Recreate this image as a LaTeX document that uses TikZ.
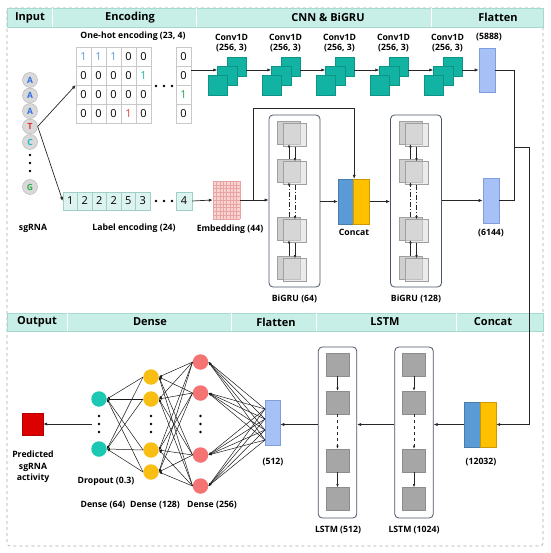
\documentclass[tikz,border=0pt]{standalone}
\usepackage{fontspec}
\setmainfont{Open Sans}
\usetikzlibrary{arrows.meta,calc}
\definecolor{hdrfill}{HTML}{C8EFE7}
\definecolor{hdrline}{HTML}{A6DACF}
\definecolor{gridgray}{HTML}{C8C8C8}
\definecolor{convteal}{HTML}{12B3A2}
\definecolor{convedge}{HTML}{0C9486}
\definecolor{flatfill}{HTML}{A7C0F5}
\definecolor{flatedge}{HTML}{7E9DDD}
\definecolor{catblue}{HTML}{5B9BD5}
\definecolor{catyellow}{HTML}{FFC000}
\definecolor{embfill}{HTML}{F9D2D2}
\definecolor{embline}{HTML}{E8A3A3}
\definecolor{lefill}{HTML}{DDF3F0}
\definecolor{leedge}{HTML}{9FCFC8}
\definecolor{boxedge}{HTML}{4A5568}
\definecolor{gruback}{HTML}{CFCFCF}
\definecolor{grufront}{HTML}{DCDCDC}
\definecolor{gruedge}{HTML}{A0A0A0}
\definecolor{lstmfill}{HTML}{A6A6A6}
\definecolor{lstmedge}{HTML}{8C8C8C}
\definecolor{nnred}{HTML}{F47474}
\definecolor{nnyellow}{HTML}{F9BE14}
\definecolor{nnteal}{HTML}{1CC8B4}
\definecolor{outred}{HTML}{DD0000}
\definecolor{baseA}{HTML}{2F6FE0}
\definecolor{baseT}{HTML}{E03030}
\definecolor{baseC}{HTML}{1FB8C4}
\definecolor{baseG}{HTML}{2FAE4E}
\definecolor{oneblue}{HTML}{5B9BD5}
\definecolor{oneteal}{HTML}{1FB09E}
\definecolor{onegreen}{HTML}{23A04E}
\definecolor{onered}{HTML}{E04040}
\begin{document}
\begin{tikzpicture}[x=1pt,y=-1pt,
  lbl/.style={font=\fontsize{8.7}{10}\selectfont\bfseries, align=center, inner sep=0},
  hdr/.style={font=\fontsize{11}{12}\selectfont\bfseries, inner sep=0},
  arr/.style={-{Latex[length=4pt,width=3.2pt]}, line width=0.7pt, draw=black!85},
  smarr/.style={-{Latex[length=3.2pt,width=2.6pt]}, line width=0.6pt, draw=black!85},
  nnarr/.style={-{Latex[length=3pt,width=2.4pt]}, line width=0.5pt, draw=black!90},
  ln/.style={line width=0.7pt, draw=black!85},
  ohcell/.style={draw=gridgray, line width=0.5pt, minimum width=15pt, minimum height=19pt, inner sep=0, font=\fontsize{11}{12}\selectfont},
  lecell/.style={draw=leedge, fill=lefill, line width=0.5pt, minimum width=14.5pt, minimum height=18pt, inner sep=0, font=\fontsize{11}{12}\selectfont},
  base/.style={circle, draw=gray!60, fill=gray!30, minimum size=15pt, inner sep=0, font=\fontsize{8.5}{9}\selectfont\bfseries},
  convsq/.style={draw=convedge, fill=convteal, line width=0.4pt, minimum size=19.5pt, inner sep=0},
  flat/.style={draw=flatedge, fill=flatfill, line width=0.6pt, minimum width=16pt, minimum height=44pt, inner sep=0},
  grubox/.style={draw=boxedge, rounded corners=4pt, line width=0.8pt, fill=white, minimum width=51pt, minimum height=172pt, inner sep=0},
  gback/.style={draw=gruedge, fill=gruback, line width=0.5pt, minimum size=23pt, inner sep=0},
  gfront/.style={draw=gruedge, fill=grufront, fill opacity=0.55, line width=0.5pt, minimum size=23pt, inner sep=0},
  lcell/.style={draw=lstmedge, fill=lstmfill, line width=0.5pt, minimum size=23pt, inner sep=0},
  catb/.style={draw=catblue!80!black, fill=catblue, line width=0.4pt, minimum width=16pt, minimum height=45pt, inner sep=0},
  caty/.style={draw=catyellow!80!black, fill=catyellow, line width=0.4pt, minimum width=16pt, minimum height=45pt, inner sep=0},
  neuron/.style={circle, minimum size=15.5pt, inner sep=0}
]
\useasboundingbox (0,0) rectangle (550,553);
% frame
\draw[gray!70, dashed, line width=0.6pt, rounded corners=3pt] (7,8) rectangle (543,546);
% top header
\draw[hdrline, fill=hdrfill, line width=0.5pt] (7,8) rectangle (543,27);
\foreach \xx in {52,196,431} \draw[white, line width=0.8pt] (\xx,8) -- (\xx,27);
\node[hdr] (hIn) at (30,17.5) {Input};
\node[hdr] (hEnc) at (130,17.5) {Encoding};
\node[hdr] (hCnn) at (328,17.5) {CNN \& BiGRU};
\node[hdr] (hFl) at (498,17.5) {Flatten};
% bottom header
\draw[hdrline, fill=hdrfill, line width=0.5pt] (7,313) rectangle (543,331);
\foreach \xx in {67,231,316,456} \draw[white, line width=0.8pt] (\xx,313) -- (\xx,331);
\node[hdr] (hOut) at (37,322) {Output};
\node[hdr] (hDen) at (150,322) {Dense};
\node[hdr] (hFl2) at (276,322) {Flatten};
\node[hdr] (hLs) at (385,322) {LSTM};
\node[hdr] (hCat) at (493,322) {Concat};

% sgRNA
\node[base, text=baseA] (s1) at (30,80) {A};
\node[base, text=baseA] (s2) at (30,95.5) {A};
\node[base, text=baseA] (s3) at (30,111) {A};
\node[base, text=baseT] (s4) at (30,126.5) {T};
\node[base, text=baseC] (s5) at (30,142) {C};
\node[base, text=baseG] (s6) at (30,187) {G};
\foreach \yy in {155,163,171} \fill (30,\yy) circle (1.3pt);
\node[lbl] (sgl) at (33,228) {sgRNA};

% one-hot matrix
\node[inner sep=0, minimum width=75pt, minimum height=76pt] (oh) at (113.5,85) {};
\foreach \c/\v/\col in {1/1/oneblue,2/1/oneblue,3/1/oneblue,4/0/black,5/0/black}
  \node[ohcell, text=\col] (ma\c) at ({68.5+15*\c},56.5) {\v};
\foreach \c/\v/\col in {1/0/black,2/0/black,3/0/black,4/0/black,5/1/oneteal}
  \node[ohcell, text=\col] (mb\c) at ({68.5+15*\c},75.5) {\v};
\foreach \c/\v/\col in {1/0/black,2/0/black,3/0/black,4/0/black,5/0/black}
  \node[ohcell, text=\col] (mc\c) at ({68.5+15*\c},94.5) {\v};
\foreach \c/\v/\col in {1/0/black,2/0/black,3/0/black,4/1/onered,5/0/black}
  \node[ohcell, text=\col] (md\c) at ({68.5+15*\c},113.5) {\v};
\foreach \c/\v/\col in {1/0/black,2/0/black,3/1/onegreen,4/0/black}
  \node[ohcell, text=\col] (k\c) at (183.5,{37.5+19*\c}) {\v};
\foreach \xx in {156,164,172} \fill (\xx,86) circle (1.4pt);
\node[lbl] (ohl) at (133,36) {One-hot encoding (23, 4)};

% label encoding
\foreach \c/\v in {1/1,2/2,3/2,4/2,5/5,6/3}
  \node[lecell] (le\c) at ({55.75+14.5*\c},201) {\v};
\node[lecell, minimum width=16pt] (le7) at (184,201) {4};
\foreach \xx in {156,164,172} \fill (\xx,201) circle (1.4pt);
\node[lbl] (lel) at (134,228) {Label encoding (24)};

\draw[arr] (s4.east) -- (oh.west);
\draw[arr] (s4.east) -- (le1.west);

% embedding
\node[fill=embfill, minimum width=27pt, minimum height=38pt, inner sep=0] (emb) at (226.5,200) {};
\foreach \xx in {213,216.375,...,240.1} \draw[embline, line width=0.4pt] (\xx,181) -- (\xx,219);
\foreach \yy in {181,184.8,...,219.1} \draw[embline, line width=0.4pt] (213,\yy) -- (240,\yy);
\node[lbl] (embl) at (230,229) {Embedding (44)};
\draw[arr] (le7.east) -- (emb.west);

% conv layers
\foreach \i in {1,...,5}{
  \pgfmathsetmacro\xo{208+54*(\i-1)}
  \node[convsq] (cvb\i) at (\xo+28.5,66.5) {};
  \node[convsq] (cvm\i) at (\xo+19.25,75.5) {};
  \node[convsq] (cvf\i) at (\xo+9.75,85) {};
  \node[lbl] (cvl\i) at (\xo+23.5,43) {Conv1D\\(256, 3)};
}
\draw[arr] ([yshift=-13.5pt]k1.east) -- ([yshift=5.5pt]cvm1.west);
\foreach \i/\j in {1/2,2/3,3/4,4/5}
  \draw[arr] ([yshift=-3.5pt]cvb\i.east) -- ([yshift=5.5pt]cvm\j.west);

% flatten 1
\node[flat] (f1) at (487,70) {};
\node[lbl] (f1l) at (489,37) {(5888)};
\draw[arr] ([yshift=-3.5pt]cvb5.east) -- (f1.west);

% BiGRU boxes
\foreach \gi/\L in {1/269,2/390.5}{
  \node[grubox] (g\gi) at (\L+25.5,201) {};
  \foreach \kk/\yt in {1/121,2/159,3/217,4/256}{
    \node[gback] (g\gi c\kk b) at (\L+20,\yt+11.5) {};
    \node[gfront] (g\gi c\kk f) at (\L+26,\yt+14) {};
  }
  \foreach \kk/\nn in {1/2,3/4}{
    \draw[smarr] (g\gi c\nn b.north) -- (g\gi c\kk b.south);
    \draw[smarr] (g\gi c\kk f.south) -- (g\gi c\nn f.north);
  }
  \draw[smarr, dash pattern=on 5pt off 2pt on 1pt off 2pt] (g\gi c3b.north) -- (g\gi c2b.south);
  \draw[smarr, dash pattern=on 5pt off 2pt on 1pt off 2pt] (g\gi c2f.south) -- (g\gi c3f.north);
}
\node[lbl] (g1l) at (294.5,299) {BiGRU (64)};
\node[lbl] (g2l) at (416,299) {BiGRU (128)};

% concat 1
\node[catb] (cc1b) at (346,201.5) {};
\node[caty] (cc1y) at (361.5,201.5) {};
\node[lbl] (cc1l) at (354,232) {Concat};

% flatten 2
\node[flat, minimum height=45pt] (f2) at (491,200.5) {};
\node[lbl] (f2l) at (491,233) {(6144)};

% top connectors
\coordinate (br) at (253,200);
\coordinate (bt) at (253,108);
\draw[arr] (emb.east) -- (emb.east -| g1.west);
\draw[arr] (br) -- (bt) -| (cc1b.north east);
\draw[arr] (g1.east |- cc1b.west) -- (cc1b.west);
\draw[arr] (cc1y.east) -- (cc1y.east -| g2.west);
\draw[arr] (g2.east |- f2.west) -- (f2.west);

% merge to bottom concat
\coordinate (jn) at (514,147);
\coordinate (kn) at (529,147);
\draw[ln] (f1.east) -| (jn);
\draw[ln] (f2.east) -| (jn);

% bottom concat
\node[catb] (ccb) at (472,424.5) {};
\node[caty] (ccy) at (488,424.5) {};
\node[lbl] (ccl) at (481,462) {(12032)};
\draw[arr] (jn) -- (kn) |- (ccy.east);

% LSTM boxes
\foreach \gi/\cx in {1/337.5,2/414}{
  \node[grubox, minimum width=38.5pt, minimum height=171pt] (L\gi) at (\cx,432.5) {};
  \foreach \kk/\yc in {1/364.5,2/402.5,3/460.5,4/499}
    \node[lcell] (L\gi c\kk) at (\cx,\yc) {};
  \draw[smarr] (L\gi c1.south) -- (L\gi c2.north);
  \draw[smarr, dashed] (L\gi c2.south) -- (L\gi c3.north);
  \draw[smarr] (L\gi c3.south) -- (L\gi c4.north);
}
\node[lbl] (L1l) at (338,530) {LSTM (512)};
\node[lbl] (L2l) at (414,530) {LSTM (1024)};

% flatten 3
\node[flat, minimum width=15pt, minimum height=45pt] (f3) at (272.5,422.5) {};
\node[lbl] (f3l) at (273,462) {(512)};

\draw[arr] (ccb.west) -- (ccb.west -| L2.east);
\draw[arr] (L2.west |- ccb.west) -- (L1.east |- ccb.west);
\draw[arr] (L1.west |- ccb.west) -- (f3.east |- ccb.west);

% neural net
\foreach \i/\yy in {1/362,2/393,3/455,4/486} \node[neuron, fill=nnred] (r\i) at (200.5,\yy) {};
\foreach \i/\yy in {1/377,2/399,3/450,4/472} \node[neuron, fill=nnyellow] (y\i) at (151,\yy) {};
\foreach \i/\yy in {1/399,2/449} \node[neuron, fill=nnteal] (d\i) at (99,\yy) {};
\foreach \xx in {99,151,200.5} \foreach \yy in {416,424,432} \fill (\xx,\yy) circle (1.4pt);
\foreach \p/\yy in {1/409,2/419,3/430,4/440} \coordinate (fp\p) at (265,\yy);
\foreach \a in {1,...,4} \foreach \p in {1,...,4} \draw[nnarr] (fp\p) -- (r\a.east);
\foreach \a in {1,...,4} \foreach \b in {1,...,4} \draw[nnarr] (r\a.west) -- (y\b.east);
\foreach \a in {1,...,4} \foreach \b in {1,2} \draw[nnarr] (y\a.west) -- (d\b.east);

% output
\node[draw=outred!80!black, fill=outred, minimum width=21pt, minimum height=22pt, inner sep=0] (out) at (32.5,424) {};
\coordinate (dx) at (92,424);
\draw[arr] (dx) -- (out.east);
\node[lbl, font=\fontsize{8.7}{11.5}\selectfont\bfseries] (outl) at (33,467) {Predicted\\sgRNA\\activity};
\node[lbl] (dpl) at (106,481) {Dropout (0.3)};
\node[lbl] (dn1) at (103,505) {Dense (64)};
\node[lbl] (dn2) at (155,505) {Dense (128)};
\node[lbl] (dn3) at (212,505) {Dense (256)};
\end{tikzpicture}
\end{document}
